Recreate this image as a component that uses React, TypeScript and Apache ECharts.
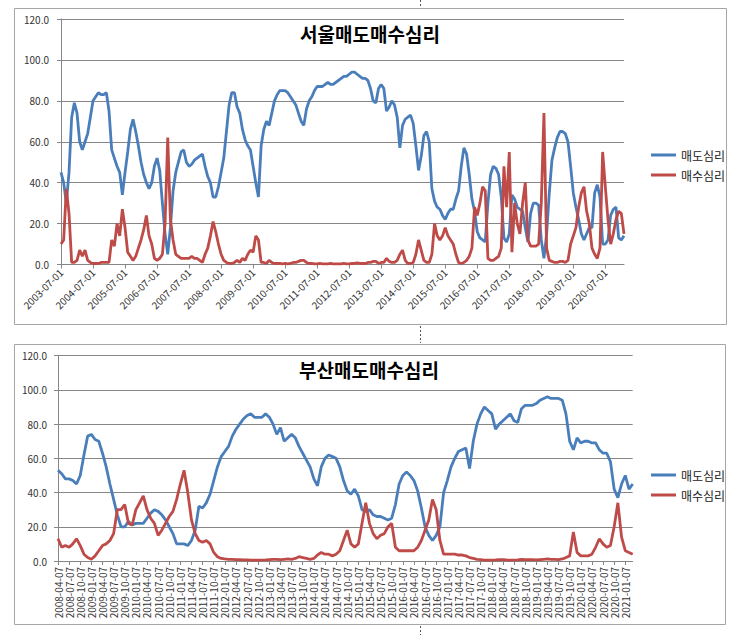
import React, { useEffect, useRef } from "react";
import * as echarts from "echarts";

// ---- categories (monthly samples of the weekly series) ----
function monthCats(startYear: number, startMonth: number, count: number, day: string): string[] {
  const out: string[] = [];
  for (let i = 0; i < count; i++) {
    const t = startMonth - 1 + i;
    const y = startYear + Math.floor(t / 12);
    const m = (t % 12) + 1;
    out.push(`${y}-${m < 10 ? "0" + m : m}-${day}`);
  }
  return out;
}
const seoulDates = monthCats(2003, 7, 212, "01");
const busanDates = monthCats(2008, 4, 156, "07");

const seriesNames = ["매도심리", "매수심리"];
const titles = ["서울매도매수심리", "부산매도매수심리"];
const yTicks = [0, 20, 40, 60, 80, 100, 120];

// ---- Seoul ----
const seoulSell = [
  45, 40, 30, 45, 72, 79, 74, 60, 56, 60,
  64, 72, 80, 82, 84, 83, 83, 84, 75, 56,
  52, 48, 45, 34, 45, 55, 66, 71, 65, 58,
  50, 44, 40, 37, 40, 48, 52, 46, 30, 15,
  5, 18, 36, 45, 50, 55, 56, 50, 48, 49,
  51, 52, 53, 54, 48, 43, 40, 33, 33, 38,
  45, 52, 65, 78, 84, 84, 77, 74, 66, 61,
  58, 56, 48, 40, 33, 58, 66, 70, 68, 74,
  80, 83, 85, 85, 85, 84, 82, 80, 78, 74,
  70, 68, 76, 80, 82, 85, 87, 87, 87, 88,
  89, 88, 88, 89, 90, 91, 92, 92, 93, 94,
  94, 93, 92, 91, 91, 90, 86, 80, 79, 86,
  88, 86, 75, 77, 80, 78, 72, 57, 68, 71,
  72, 73, 69, 58, 46, 53, 63, 65, 60, 37,
  31, 28, 27, 24, 22, 25, 27, 27, 32, 36,
  48, 57, 54, 44, 32, 26, 16, 13, 12, 11,
  30, 44, 48, 47, 44, 33, 13, 11, 15, 34,
  32, 28, 27, 26, 18, 11, 25, 30, 30, 29,
  12, 3, 15, 35, 51, 57, 62, 65, 65, 64,
  60, 48, 35, 28, 22, 15, 12, 15, 18, 18,
  35, 39, 33, 10, 10, 12, 24, 27, 28, 13,
  12, 14,
];
const seoulBuy = [
  10, 12, 37, 25, 1, 1, 2, 7, 4, 7,
  2, 1, 0.5, 0.5, 0.5, 1, 1, 1, 1, 12,
  9, 20, 14, 27, 18, 6, 4, 2, 4, 8,
  12, 17, 24, 14, 10, 3, 2, 3, 5, 20,
  62, 22, 12, 5, 4, 3, 3, 3, 3, 4,
  3, 3, 2, 1, 5, 8, 14, 21, 16, 10,
  5, 2, 1, 0.5, 0.5, 1, 2, 1, 3, 2,
  5, 7, 6, 14, 12, 1, 1, 0.5, 2, 1,
  0.5, 0.5, 0.5, 0.3, 0.5, 0.3, 0.5, 1, 1, 1.5,
  2, 2, 1, 0.5, 0.5, 0.3, 0.3, 0.5, 0.3, 0.3,
  0.3, 0.5, 0.3, 0.3, 0.3, 0.3, 0.5, 0.3, 0.3, 0.5,
  0.5, 0.8, 0.5, 0.5, 0.5, 1, 1, 1.5, 1.5, 0.5,
  1, 1, 3, 1.5, 1, 1, 2, 5, 7, 2,
  0.5, 0.5, 1, 5, 12, 7, 2, 1, 1, 5,
  20, 14, 12, 14, 18, 14, 12, 10, 5, 1,
  0.5, 1, 2, 4, 8, 28, 24, 30, 38, 36,
  3, 2, 2, 3, 4, 8, 48, 28, 55, 6,
  30, 20, 15, 30, 40, 12, 9, 9, 9, 10,
  30, 74, 8, 2, 1.5, 1, 1, 1.5, 1.5, 1,
  2, 10, 14, 18, 28, 35, 38, 26, 20, 8,
  5, 3, 8, 55, 38, 22, 10, 15, 22, 26,
  25, 15,
];

// ---- Busan ----
const busanSell = [
  53, 51, 48, 48, 47, 45, 50, 62, 73, 74,
  71, 70, 63, 55, 45, 36, 27, 20, 20, 23,
  21, 22, 22, 22, 25, 28, 30, 29, 27, 24,
  20, 16, 10, 10, 10, 9, 12, 18, 32, 31,
  34, 39, 47, 55, 61, 64, 67, 73, 77, 80,
  83, 85, 86, 84, 84, 84, 86, 84, 80, 74,
  78, 70, 72, 74, 72, 67, 63, 59, 55, 48,
  44, 55, 60, 62, 61, 60, 55, 47, 41, 39,
  42, 38, 30, 29, 30, 27, 26, 26, 25, 24,
  25, 33, 45, 50, 52, 50, 47, 41, 31, 20,
  15, 12, 15, 20, 40, 47, 55, 60, 64, 65,
  66, 54, 70, 80, 86, 90, 88, 86, 77, 80,
  82, 84, 86, 82, 81, 89, 91, 91, 91, 92,
  94, 95, 96, 95, 95, 95, 94, 86, 70, 65,
  72, 69, 70, 70, 69, 69, 65, 63, 63, 58,
  42, 37, 45, 50, 42, 45,
];
const busanBuy = [
  13, 8, 9, 8, 10, 13, 9, 4, 2, 1,
  3, 6, 9, 10, 12, 16, 30, 30, 33, 22,
  21, 30, 34, 38, 30, 25, 22, 15, 18, 22,
  26, 29, 36, 45, 53, 40, 24, 16, 12, 11,
  12, 10, 5, 2.5, 1.5, 1.2, 1, 1, 0.8, 0.8,
  0.6, 0.6, 0.5, 0.5, 0.5, 0.5, 0.6, 0.8, 1, 1,
  0.8, 1, 1.2, 1, 1.5, 2.5, 2, 1.5, 1, 1.5,
  3.5, 5, 4, 4, 3, 4, 6, 12, 18, 10,
  8, 10, 22, 34, 22, 16, 13, 15, 16, 20,
  22, 8, 6, 6, 6, 6, 6, 8, 12, 18,
  24, 36, 30, 12, 4, 4, 4, 4, 3.5, 3.5,
  3, 2, 1.5, 1, 0.8, 0.5, 0.5, 0.5, 0.6, 0.8,
  0.8, 0.6, 0.5, 0.5, 0.6, 1, 0.8, 0.8, 0.8, 0.6,
  0.8, 1, 1.2, 1, 1, 0.8, 1.2, 2, 3, 17,
  5, 3, 3, 3, 4, 8, 13, 10, 8, 9,
  20, 34, 14, 6, 5, 4,
];

const BLUE = "#4A7EBB";
const RED = "#BE4B48";
const GRID = "#868686";
const FONT = '"Noto Sans CJK KR", "Noto Sans", sans-serif';

function xAxisFor(gridIndex: number, data: string[], every: number, rotate: number) {
  return {
    gridIndex,
    type: "category",
    data,
    boundaryGap: false,
    axisLine: { lineStyle: { color: GRID, width: 1 } },
    axisTick: { show: true, interval: every - 1, length: 4, lineStyle: { color: GRID } },
    axisLabel: {
      interval: every - 1,
      rotate,
      fontSize: 10,
      color: "#333",
      margin: 6,
      fontFamily: FONT,
    },
    splitLine: { show: false },
  };
}

function yAxisFor(gridIndex: number, margin: number) {
  return {
    gridIndex,
    type: "value",
    min: yTicks[0],
    max: yTicks[yTicks.length - 1],
    interval: yTicks[1] - yTicks[0],
    axisLine: { show: true, lineStyle: { color: GRID, width: 1 } },
    axisTick: { show: true, length: 4, lineStyle: { color: GRID } },
    axisLabel: {
      formatter: (v: number) => v.toFixed(1),
      fontSize: 10,
      color: "#333",
      margin,
      fontFamily: FONT,
    },
    splitLine: { show: true, lineStyle: { color: GRID, width: 1 } },
  };
}

function lineSeries(name: string, data: number[], idx: number, color: string) {
  return {
    name,
    type: "line",
    xAxisIndex: idx,
    yAxisIndex: idx,
    data,
    symbol: "none",
    showSymbol: false,
    lineStyle: { color, width: 2.8 },
    itemStyle: { color },
    emphasis: { disabled: true },
  };
}

function legendAt(top: number) {
  return {
    data: seriesNames,
    orient: "vertical",
    left: 646,
    top,
    icon: "rect",
    itemWidth: 25,
    itemHeight: 3,
    itemGap: 6,
    selectedMode: false,
    textStyle: { fontSize: 12, color: "#222", fontFamily: FONT, lineHeight: 14 },
  };
}

export default function App() {
  const ref = useRef<HTMLDivElement>(null);
  useEffect(() => {
    if (!ref.current) return;
    const chart = echarts.init(ref.current, undefined, { renderer: "svg" });
    chart.setOption({
      animation: false,
      backgroundColor: "#ffffff",
      textStyle: { fontFamily: FONT },
      grid: [
        { left: 61, top: 19, width: 563, height: 245.5, outerBoundsMode: "none" },
        { left: 58, top: 355.7, width: 574.7, height: 205.3, outerBoundsMode: "none" },
      ],
      xAxis: [xAxisFor(0, seoulDates, 12, 45), xAxisFor(1, busanDates, 3, 90)],
      yAxis: [yAxisFor(0, 12), yAxisFor(1, 11)],
      legend: [legendAt(143), legendAt(463)],
      series: [
        lineSeries(seriesNames[0], seoulSell, 0, BLUE),
        lineSeries(seriesNames[1], seoulBuy, 0, RED),
        lineSeries(seriesNames[0], busanSell, 1, BLUE),
        lineSeries(seriesNames[1], busanBuy, 1, RED),
      ],
      graphic: [
        {
          type: "rect",
          shape: { x: 14.5, y: 8.5, width: 712, height: 316 },
          style: { fill: "none", stroke: "#a6a6a6", lineWidth: 1 },
          silent: true,
          z: -1,
        },
        {
          type: "rect",
          shape: { x: 14.5, y: 344.5, width: 711, height: 280 },
          style: { fill: "none", stroke: "#a6a6a6", lineWidth: 1 },
          silent: true,
          z: -1,
        },
        {
          type: "line",
          shape: { x1: 420.5, y1: 0, x2: 420.5, y2: 6 },
          style: { stroke: "#555", lineWidth: 1, lineDash: [2, 2] },
          silent: true,
        },
        {
          type: "line",
          shape: { x1: 420.5, y1: 326, x2: 420.5, y2: 343 },
          style: { stroke: "#555", lineWidth: 1, lineDash: [2, 2] },
          silent: true,
        },
        {
          type: "line",
          shape: { x1: 420.5, y1: 626, x2: 420.5, y2: 635 },
          style: { stroke: "#555", lineWidth: 1, lineDash: [2, 2] },
          silent: true,
        },
        {
          type: "text",
          x: 370,
          y: 33.5,
          style: {
            text: titles[0],
            textAlign: "center",
            textVerticalAlign: "middle",
            fontSize: 19,
            fontWeight: "bold",
            fontFamily: FONT,
            fill: "#000",
          },
        },
        {
          type: "text",
          x: 369,
          y: 369.5,
          style: {
            text: titles[1],
            textAlign: "center",
            textVerticalAlign: "middle",
            fontSize: 19,
            fontWeight: "bold",
            fontFamily: FONT,
            fill: "#000",
          },
        },
      ],
    });
    return () => chart.dispose();
  }, []);
  return (
    <div
      ref={ref}
      style={{ position: "absolute", left: 0, top: 0, width: 743, height: 635 }}
    />
  );
}
